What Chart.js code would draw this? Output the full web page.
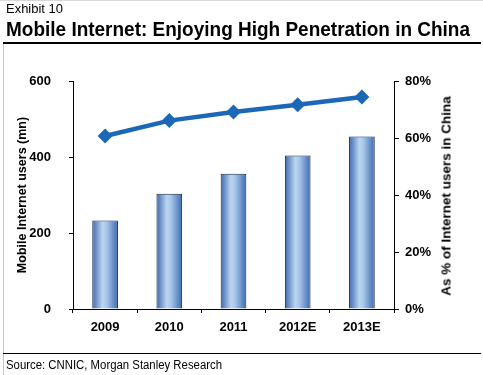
<!DOCTYPE html>
<html>
<head>
<meta charset="utf-8">
<script src="https://cdn.jsdelivr.net/npm/chart.js@4.4.0/dist/chart.umd.min.js"></script>
<style>
    body { margin: 0; background: #fff; }
    #wrap { position: relative; width: 483px; height: 375px; overflow: hidden; font-family: Arial, "Liberation Sans", sans-serif; }
    #chart { position: absolute; left: 0; top: 0; }
    .txt { position: absolute; left: 6px; color: #000; white-space: nowrap; transform-origin: 0 0; }
    #exhibit { top: 2px; font-size: 12.5px; }
    #title { top: 17px; font-size: 21px; font-weight: bold; }
    #source { top: 358px; font-size: 12px; }
    #rightTitle { position: absolute; left: 446px; top: 196px; white-space: nowrap; font-size: 13.5px; font-weight: bold; color: #000;
                  transform: translate(-50%, -50%) rotate(-90deg); }
    .rule { position: absolute; left: 3px; width: 478px; background: #000; }
    #topRule { top: 42px; height: 2px; }
    #bottomRule { top: 353px; height: 1px; }
    #frameLeft { position: absolute; left: 3px; top: 44px; width: 1px; height: 331px; background: #c8c8c8; }
    #frameTop { position: absolute; left: 0; top: 0; width: 483px; height: 1px; background: #d8d8d8; }
</style>
</head>
<body>
<div id="wrap">
    <canvas id="chart" width="483" height="375"></canvas>
    <div id="frameTop"></div>
    <div id="frameLeft"></div>
    <div class="txt" id="exhibit">Exhibit 10</div>
    <div class="txt" id="title">Mobile Internet: Enjoying High Penetration in China</div>
    <div class="rule" id="topRule"></div>
    <div id="rightTitle">As % of Internet users in China</div>
    <div class="rule" id="bottomRule"></div>
    <div class="txt" id="source">Source: CNNIC, Morgan Stanley Research</div>
</div>
<script>
const years = ['2009', '2010', '2011', '2012E', '2013E'];
const mobileUsers = [233, 303, 356, 404, 454];        // mn, left axis
const penetration = [60.7, 66.1, 69.1, 71.7, 74.4];   // % of internet users, right axis

const usersTicks = [0, 200, 400, 600];
const pctTicks = [0, 20, 40, 60, 80];

const fontFamily = 'Arial, "Liberation Sans", sans-serif';
const tickFont = { family: fontFamily, size: 13, weight: 'bold' };
const barShare = 0.8 * 0.5;

// squeeze a text line to the width it has in the picture
function fitWidth(id, target) {
    const el = document.getElementById(id);
    const w = el.getBoundingClientRect().width;
    if (w > 0) el.style.transform = 'scaleX(' + (target / w) + ')';
}
fitWidth('title', 464);
fitWidth('source', 216);
fitWidth('exhibit', 57);

// gradient across each bar, dark edges and a light centre
function barGradient(context) {
    const chart = context.chart;
    const xScale = chart.scales.x;
    if (!xScale || context.type !== 'data') return '#6f9bd3';
    const center = xScale.getPixelForValue(context.dataIndex);
    const half = xScale.width / years.length * barShare / 2;
    if (!isFinite(center) || !isFinite(half) || half <= 0) return '#6f9bd3';
    const g = chart.ctx.createLinearGradient(center - half, 0, center + half, 0);
    g.addColorStop(0, '#3b68ad');
    g.addColorStop(0.4, '#bad5f0');
    g.addColorStop(0.55, '#a9c8ea');
    g.addColorStop(1, '#3d6bb2');
    return g;
}

new Chart(document.getElementById('chart'), {
    data: {
        labels: years,
        datasets: [{
            type: 'line',
            label: 'Penetration',
            data: penetration,
            yAxisID: 'y1',
            borderColor: '#1d68b6',
            backgroundColor: '#1d68b6',
            borderWidth: 4.5,
            pointStyle: 'rectRot',
            pointRadius: 7.5,
            pointBorderWidth: 0,
            tension: 0
        }, {
            type: 'bar',
            label: 'Users',
            data: mobileUsers,
            yAxisID: 'y',
            backgroundColor: barGradient,
            borderColor: '#14244a',
            borderWidth: 1,
            categoryPercentage: 0.8,
            barPercentage: 0.5
        }]
    },
    options: {
        responsive: false,
        animation: false,
        devicePixelRatio: 1,
        layout: { padding: { top: 81, left: 0, right: 0, bottom: 0 } },
        plugins: {
            legend: { display: false },
            tooltip: { enabled: false }
        },
        scales: {
            x: {
                grid: { display: true, drawOnChartArea: false, tickLength: 4, color: '#000', offset: true },
                border: { color: '#000', width: 1 },
                ticks: { color: '#000', font: tickFont, padding: 7, maxRotation: 0 },
                afterFit: scale => { scale.height = 66; }
            },
            y: {
                position: 'left',
                min: 0,
                max: 600,
                afterBuildTicks: scale => { scale.ticks = usersTicks.map(v => ({ value: v })); },
                grid: { drawOnChartArea: false, tickLength: 4, color: '#000' },
                border: { color: '#000', width: 1 },
                ticks: { color: '#000', font: tickFont, padding: 18 },
                title: {
                    display: true,
                    text: 'Mobile Internet users (mn)',
                    color: '#000',
                    font: { family: fontFamily, size: 12.5, weight: 'bold' },
                    padding: { top: 15, bottom: 0 }
                },
                afterFit: scale => { scale.width = 73; }
            },
            y1: {
                position: 'right',
                min: 0,
                max: 80,
                afterBuildTicks: scale => { scale.ticks = pctTicks.map(v => ({ value: v })); },
                grid: { drawOnChartArea: false, tickLength: 5, color: '#000' },
                border: { color: '#000', width: 1 },
                ticks: { color: '#000', font: tickFont, padding: 6, callback: v => v + '%' },
                afterFit: scale => { scale.width = 89; }
            }
        }
    }
});
</script>
</body>
</html>
